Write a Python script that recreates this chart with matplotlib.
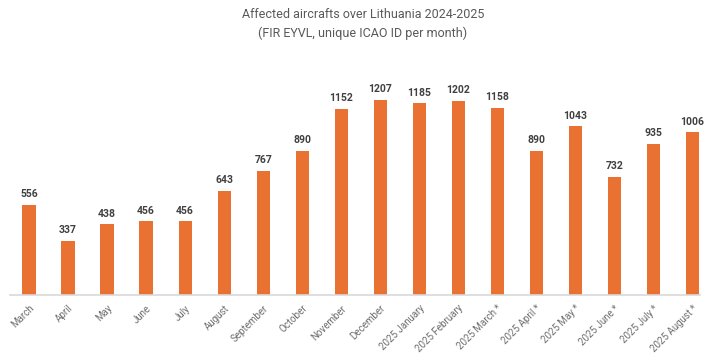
import matplotlib
matplotlib.use("Agg")
import matplotlib.pyplot as plt
from matplotlib import font_manager

months = ["March", "April", "May", "June", "July", "August", "September",
          "October", "November", "December", "2025 January", "2025 February",
          "2025 March *", "2025 April *", "2025 May *", "2025 June *",
          "2025 July *", "2025 August *"]
values = [556, 337, 438, 456, 456, 643, 767, 890, 1152, 1207, 1185, 1202,
          1158, 890, 1043, 732, 935, 1006]

names = {f.name for f in font_manager.fontManager.ttflist}
fam = "Liberation Sans Narrow" if "Liberation Sans Narrow" in names else "Roboto"
plt.rcParams['font.family'] = [fam, 'DejaVu Sans']

fig = plt.figure(figsize=(7.05, 3.62), dpi=100)
W, H = 705, 362
ax = fig.add_axes([10 / W, 1 - 295 / H, 690 / W, 235 / H])

x = list(range(len(months)))
bars = ax.bar(x, values, width=0.34, color="#E97132", zorder=2)
for xi, v in zip(x, values):
    ax.text(xi, v + 35, str(v), ha="center", va="bottom", fontsize=7.5,
            fontweight="bold", color="#404040")

ax.set_xlim(-0.49, 17.2)
ax.set_ylim(0, 1454)
ax.set_yticks([])
ax.set_xticks(x)
ax.set_xticklabels(months, rotation=45, ha="right", rotation_mode="anchor",
                   fontsize=7, color="#6E6E6E")
ax.tick_params(axis="x", length=0, pad=6)
for s in ["top", "right", "left"]:
    ax.spines[s].set_visible(False)
ax.spines["bottom"].set_color("#D9D9D9")
ax.spines["bottom"].set_linewidth(1.2)

fig.text(363 / W, 1 - 15 / H, "Affected aircrafts over Lithuania 2024-2025",
         ha="center", va="center", fontsize=9, color="#595959")
fig.text(363 / W, 1 - 33 / H, "(FIR EYVL, unique ICAO ID per month)",
         ha="center", va="center", fontsize=9, color="#595959")

fig.savefig("out.png", dpi=100)
